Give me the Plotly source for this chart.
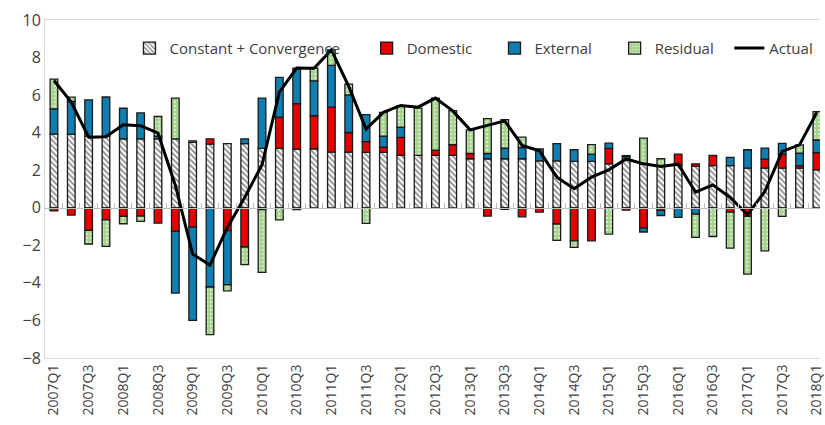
import plotly.graph_objects as go

# Quarterly decomposition of growth (percent), 2007Q1-2018Q1
quarters = [f"{y}Q{q}" for y in range(2007, 2019) for q in range(1, 5)][:45]

constant_conv = [3.92, 3.92, 3.80, 3.80, 3.67, 3.67, 3.67, 3.67, 3.48, 3.39,
                 3.42, 3.42, 3.16, 3.16, 3.12, 3.14, 2.96, 2.96, 2.95, 2.95,
                 2.79, 2.79, 2.79, 2.79, 2.61, 2.61, 2.61, 2.61, 2.50, 2.50,
                 2.47, 2.47, 2.34, 2.52, 2.34, 2.20, 2.29, 2.20, 2.24, 2.24,
                 2.11, 2.11, 2.11, 2.11, 2.02]
domestic = [-0.16, -0.39, -1.20, -0.64, -0.46, -0.44, -0.82, -1.26, -1.03, 0.28,
            -1.22, -2.09, -0.10, 1.67, 2.43, 1.76, 2.40, 1.05, 0.57, 0.28,
            0.96, 0.00, 0.28, 0.57, 0.28, -0.44, -0.09, -0.48, -0.23, -0.87,
            -1.76, -1.76, 0.82, -0.12, -1.08, -0.14, 0.57, 0.14, 0.55, -0.23,
            -0.46, 0.48, 0.75, 0.14, 0.92]
external = [1.35, 1.74, 1.95, 2.10, 1.63, 1.38, 0.15, -3.28, -4.97, -4.22,
            -2.88, 0.25, 2.68, 2.11, 1.88, 1.86, 2.22, 2.00, 1.44, 0.59,
            0.55, 0.00, 0.00, 0.00, 0.00, 0.28, 0.57, 0.60, 0.64, 0.92,
            0.62, 0.39, 0.28, 0.21, -0.21, -0.27, -0.51, -0.34, 0.00, 0.44,
            0.98, 0.59, 0.57, 0.66, 0.67]
residual = [1.58, 0.23, -0.73, -1.42, -0.39, -0.28, 1.04, 2.17, 0.08, -2.54,
            -0.32, -0.94, -3.34, -0.64, -0.10, 0.67, 0.83, 0.57, -0.83, 1.26,
            1.14, 2.52, 2.77, 1.81, 1.26, 1.86, 1.51, 0.55, 0.00, -0.87,
            -0.35, 0.50, -1.40, 0.05, 1.37, 0.41, 0.00, -1.24, -1.53, -1.92,
            -3.07, -2.29, -0.46, 0.44, 1.51]
actual = [6.78, 5.63, 3.76, 3.78, 4.42, 4.37, 3.97, 1.20, -2.47, -3.05,
          -1.05, 0.55, 2.29, 6.16, 7.44, 7.43, 8.41, 6.46, 4.19, 5.08,
          5.45, 5.36, 5.84, 5.16, 4.15, 4.38, 4.63, 3.32, 3.03, 1.63,
          1.01, 1.63, 2.02, 2.60, 2.34, 2.20, 2.32, 0.83, 1.22, 0.55,
          -0.37, 0.87, 3.00, 3.35, 5.09]

tick_labels = quarters[::2]

TEXT = "#404040"
OUTLINE = "#1a1a1a"
FRAME = "#d9d9d9"
AXIS0 = "#bfbfbf"


def nz(vals):
    return [v if v != 0 else None for v in vals]


fig = go.Figure()

bar_style = dict(width=0.44, marker_line=dict(color=OUTLINE, width=1.3))

fig.add_bar(x=quarters, y=nz(constant_conv), name="Constant + Convergence",
            legend="legend",
            marker=dict(color="white",
                        pattern=dict(shape="\\", fgcolor="#111111", bgcolor="white",
                                     size=4, solidity=0.45)),
            **bar_style)
fig.add_bar(x=quarters, y=nz(domestic), name="Domestic", legend="legend2",
            marker=dict(color="#e60000"), **bar_style)
fig.add_bar(x=quarters, y=nz(external), name="External", legend="legend3",
            marker=dict(color="#0f7fb2"), **bar_style)
fig.add_bar(x=quarters, y=nz(residual), name="Residual", legend="legend4",
            marker=dict(color="#a6d38f",
                        pattern=dict(shape=".", fgcolor="white", bgcolor="#a6d38f",
                                     size=4, solidity=0.25)),
            **bar_style)
fig.add_scatter(x=quarters, y=actual, name="Actual", mode="lines", legend="legend5",
                line=dict(color="black", width=3))

n = len(quarters)
x_lo, x_hi = -0.516, 44.18

# empty trace so the zero-crossing category axis is rendered
fig.add_scatter(x=[0], y=[None], xaxis="x2", yaxis="y", showlegend=False,
                hoverinfo="skip", mode="markers")

legend_common = dict(orientation="h", y=0.965, xanchor="left", yanchor="top",
                     bgcolor="rgba(0,0,0,0)", font=dict(size=15, color=TEXT),
                     itemwidth=30)

fig.update_layout(
    width=825, height=425,
    margin=dict(l=45, r=0, t=20, b=67),
    barmode="relative",
    plot_bgcolor="white", paper_bgcolor="white",
    font=dict(family="Open Sans, Noto Sans, sans-serif", color=TEXT, size=15),
    showlegend=True,
    legend=dict(x=0.109, **legend_common),
    legend2=dict(x=0.415, **legend_common),
    legend3=dict(x=0.580, **legend_common),
    legend4=dict(x=0.735, **legend_common),
    legend5=dict(x=0.883, **legend_common),
    xaxis=dict(type="category", range=[x_lo, x_hi],
               tickmode="array", tickvals=tick_labels, ticktext=tick_labels,
               tickangle=-90, tickfont=dict(size=14, color=TEXT),
               showgrid=False, showline=True, linecolor=FRAME, mirror=True,
               ticks="", zeroline=False),
    # category axis drawn along y = 0 with small tick marks between quarters
    xaxis2=dict(overlaying="x", anchor="free", side="bottom",
                position=8 / 18, range=[x_lo, x_hi],
                tickmode="array", tickvals=[i + 0.5 for i in range(n - 1)],
                ticks="inside", ticklen=5, tickwidth=1, tickcolor=AXIS0,
                showticklabels=False, showline=True, linecolor=AXIS0,
                linewidth=1, showgrid=False, zeroline=False),
    yaxis=dict(range=[-8, 10], dtick=2, showgrid=False, zeroline=False,
               showline=True, linecolor=FRAME, ticks="",
               tickfont=dict(size=16, color=TEXT)),
)

fig.write_html("out.html")
